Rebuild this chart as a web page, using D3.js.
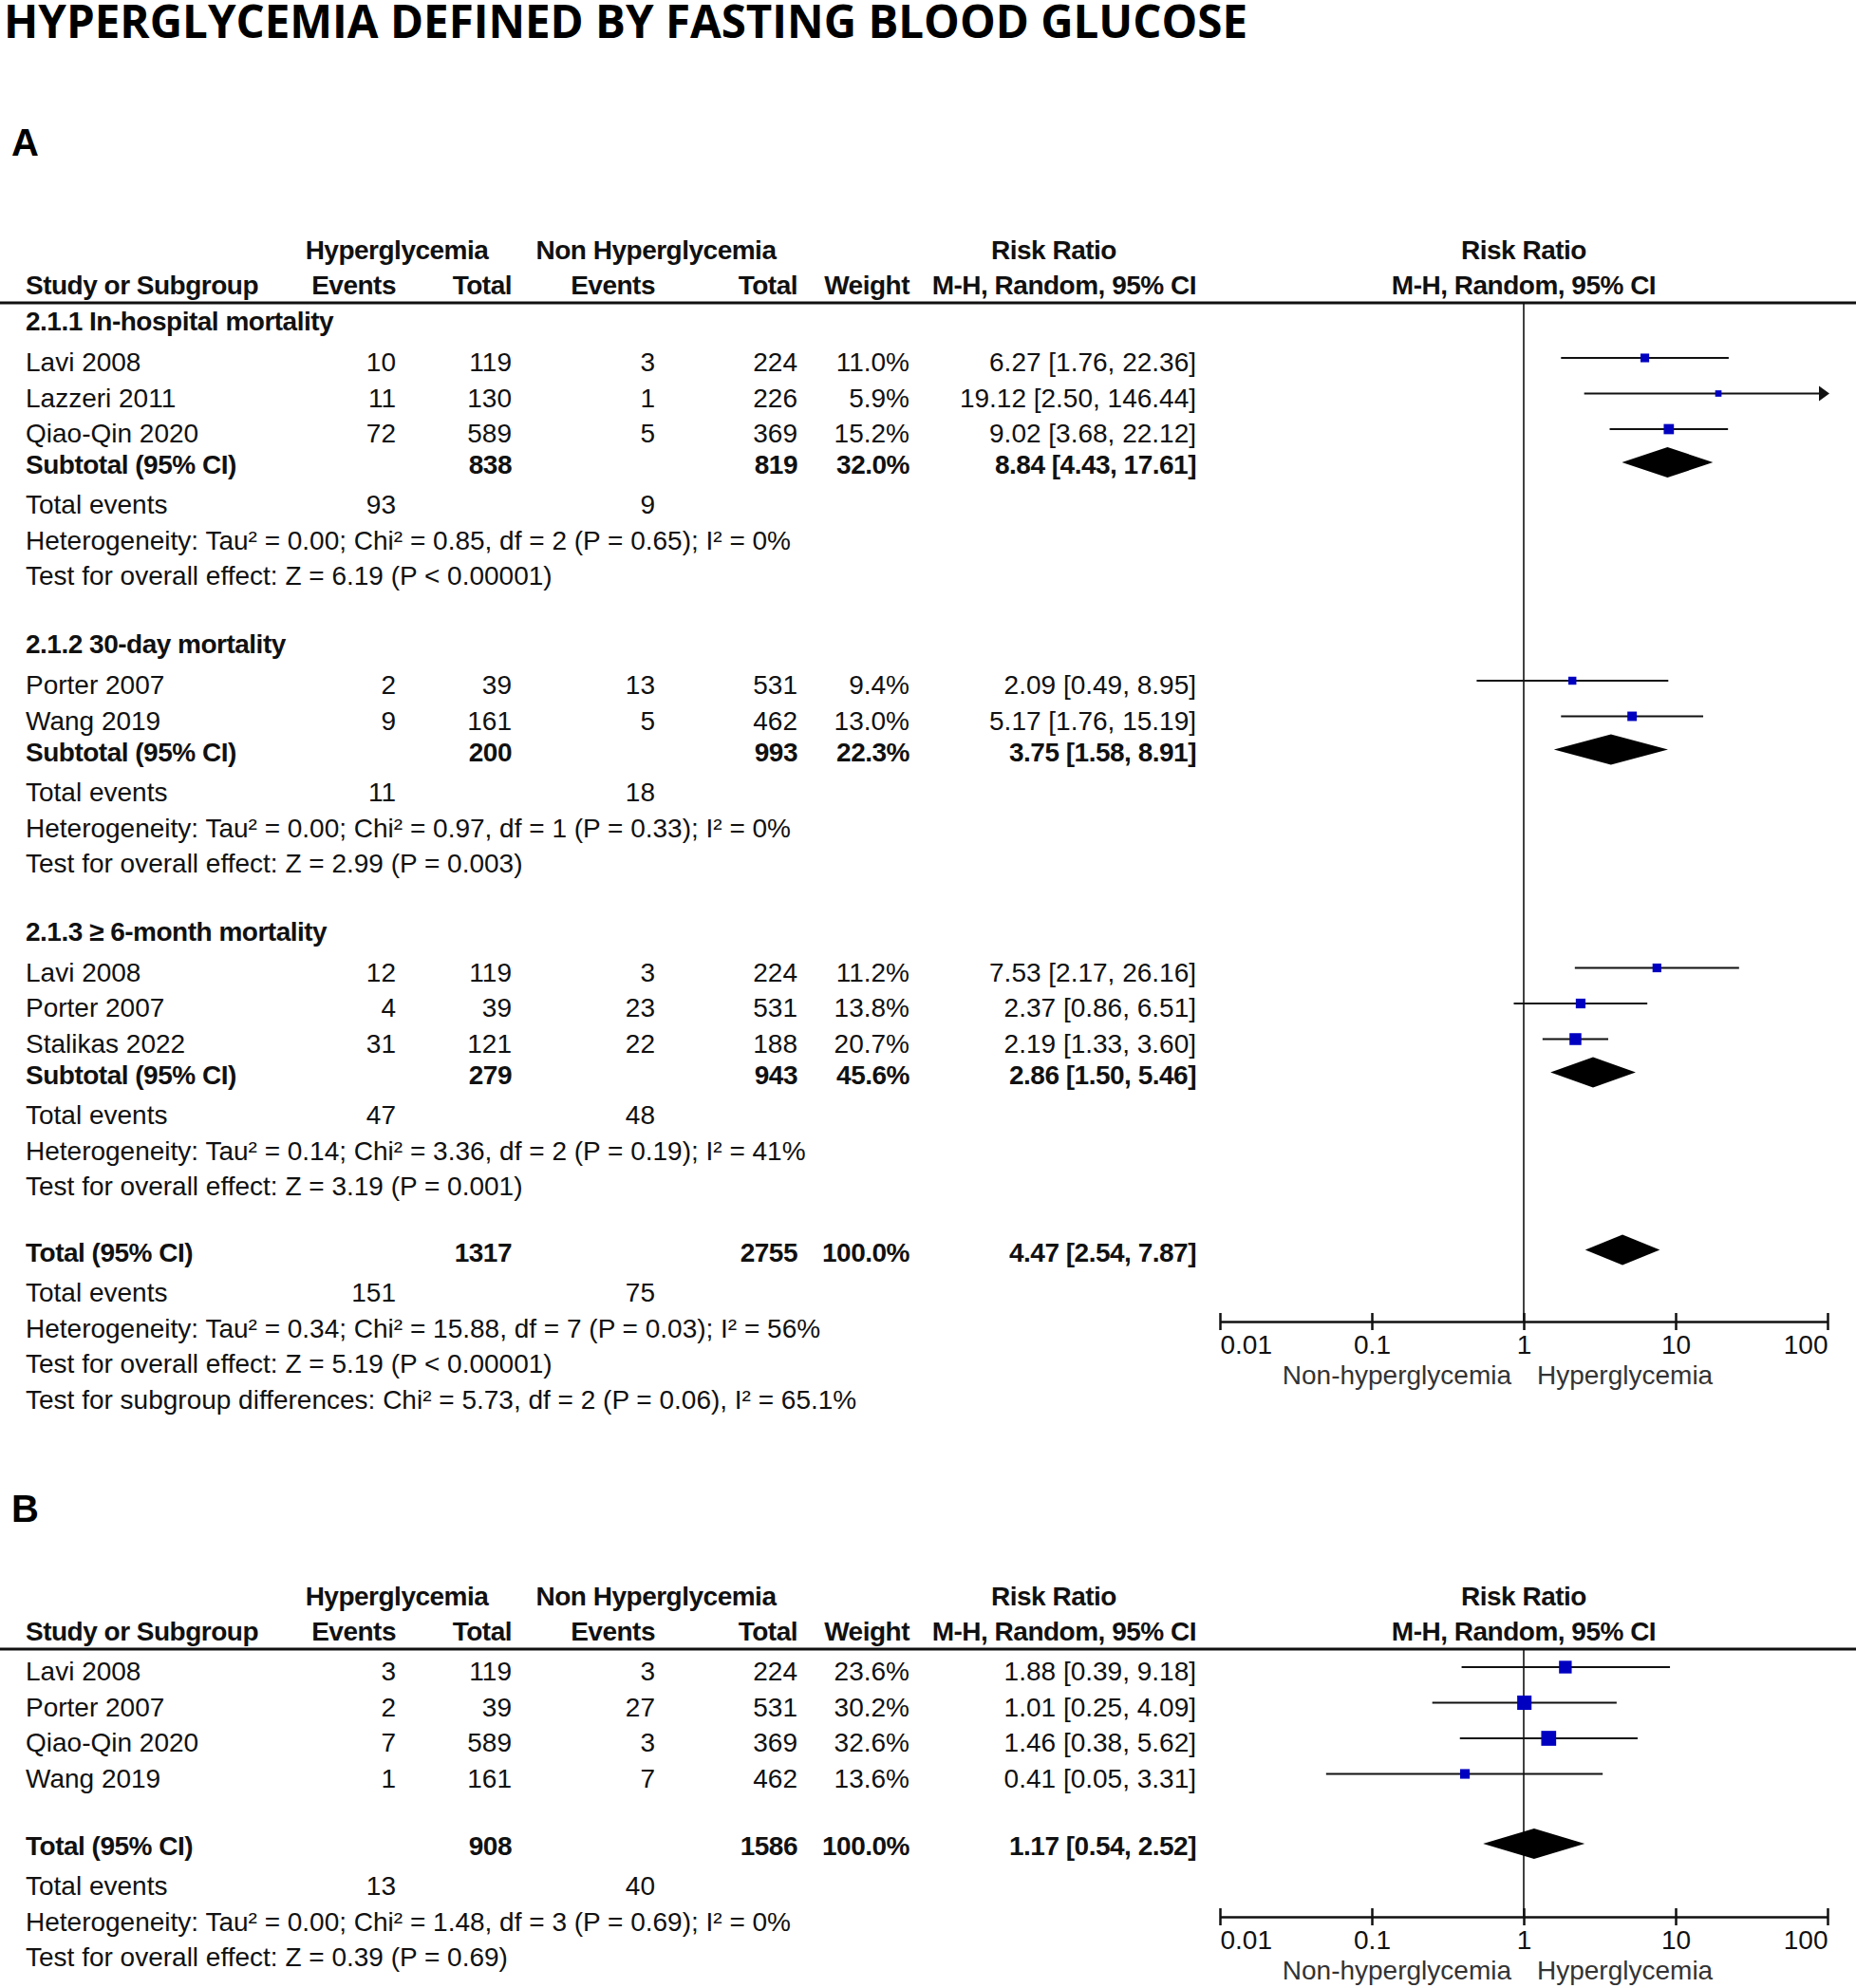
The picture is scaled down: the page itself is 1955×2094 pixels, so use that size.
<!DOCTYPE html>
<html>
<head>
<meta charset="utf-8">
<script src="https://cdn.jsdelivr.net/npm/d3@7"></script>
<style>
body { margin: 0; background: #fff; }
</style>
</head>
<body>
<div class="chart"></div>
<script>
const WIDTH = 1955;
const HEIGHT = 2094;

// ---- panel A: studies ----
var aStudy = ["Lavi 2008", "Lazzeri 2011", "Qiao-Qin 2020", "Porter 2007", "Wang 2019", "Lavi 2008", "Porter 2007", "Stalikas 2022"];
var aGroupOf = [0, 0, 0, 1, 1, 2, 2, 2];
var aHypEvents = [10, 11, 72, 2, 9, 12, 4, 31];
var aHypTotal = [119, 130, 589, 39, 161, 119, 39, 121];
var aNonEvents = [3, 1, 5, 13, 5, 3, 23, 22];
var aNonTotal = [224, 226, 369, 531, 462, 224, 531, 188];
var aWeight = [11.0, 5.9, 15.2, 9.4, 13.0, 11.2, 13.8, 20.7];
var aRR = [6.27, 19.12, 9.02, 2.09, 5.17, 7.53, 2.37, 2.19];
var aLow = [1.76, 2.50, 3.68, 0.49, 1.76, 2.17, 0.86, 1.33];
var aHigh = [22.36, 146.44, 22.12, 8.95, 15.19, 26.16, 6.51, 3.60];

// ---- panel A: subgroups ----
var aGroups = ["2.1.1 In-hospital mortality", "2.1.2 30-day mortality", "2.1.3 \u2265 6-month mortality"];
var aSubHypTotal = [838, 200, 279];
var aSubNonTotal = [819, 993, 943];
var aSubWeight = [32.0, 22.3, 45.6];
var aSubRR = [8.84, 3.75, 2.86];
var aSubLow = [4.43, 1.58, 1.50];
var aSubHigh = [17.61, 8.91, 5.46];
var aSubHypEvents = [93, 11, 47];
var aSubNonEvents = [9, 18, 48];
var aSubHet = [
    "Heterogeneity: Tau\u00b2 = 0.00; Chi\u00b2 = 0.85, df = 2 (P = 0.65); I\u00b2 = 0%",
    "Heterogeneity: Tau\u00b2 = 0.00; Chi\u00b2 = 0.97, df = 1 (P = 0.33); I\u00b2 = 0%",
    "Heterogeneity: Tau\u00b2 = 0.14; Chi\u00b2 = 3.36, df = 2 (P = 0.19); I\u00b2 = 41%"
];
var aSubTest = [
    "Test for overall effect: Z = 6.19 (P < 0.00001)",
    "Test for overall effect: Z = 2.99 (P = 0.003)",
    "Test for overall effect: Z = 3.19 (P = 0.001)"
];

// ---- panel A: overall ----
var aTotalCounts = [1317, 2755];
var aTotalEvents = [151, 75];
var aTotalWeight = 100.0;
var aTotalCI = [4.47, 2.54, 7.87];
var aTotalNotes = [
    "Heterogeneity: Tau\u00b2 = 0.34; Chi\u00b2 = 15.88, df = 7 (P = 0.03); I\u00b2 = 56%",
    "Test for overall effect: Z = 5.19 (P < 0.00001)",
    "Test for subgroup differences: Chi\u00b2 = 5.73, df = 2 (P = 0.06), I\u00b2 = 65.1%"
];

// ---- panel B ----
var bStudy = ["Lavi 2008", "Porter 2007", "Qiao-Qin 2020", "Wang 2019"];
var bHypEvents = [3, 2, 7, 1];
var bHypTotal = [119, 39, 589, 161];
var bNonEvents = [3, 27, 3, 7];
var bNonTotal = [224, 531, 369, 462];
var bWeight = [23.6, 30.2, 32.6, 13.6];
var bRR = [1.88, 1.01, 1.46, 0.41];
var bLow = [0.39, 0.25, 0.38, 0.05];
var bHigh = [9.18, 4.09, 5.62, 3.31];
var bTotalCounts = [908, 1586];
var bTotalEvents = [13, 40];
var bTotalWeight = 100.0;
var bTotalCI = [1.17, 0.54, 2.52];
var bTotalNotes = [
    "Heterogeneity: Tau\u00b2 = 0.00; Chi\u00b2 = 1.48, df = 3 (P = 0.69); I\u00b2 = 0%",
    "Test for overall effect: Z = 0.39 (P = 0.69)"
];

// ---- axis ----
var axisTicks = [0.01, 0.1, 1, 10, 100];
var axisTickLabels = ["0.01", "0.1", "1", "10", "100"];
var favourLabels = ["Non-hyperglycemia", "Hyperglycemia"];

var fmt2 = d3.format(".2f");
var fmtW = function (d) { return d3.format(".1f")(d) + "%"; };
var ciText = function (c) { return fmt2(c[0]) + " [" + fmt2(c[1]) + ", " + fmt2(c[2]) + "]"; };

// column anchors
var COL = { name: 27, hypEv: 417, hypTot: 539, nonEv: 690, nonTot: 840, weight: 958, ci: 1260 };
var cellCols = ["hypEv", "hypTot", "nonEv", "nonTot", "weight"];

var x = d3.scaleLog().domain([0.01, 100]).range([1285, 1925]);
var boxSide = d3.scaleSqrt().domain([0, 100]).range([0, 27.5]);

var svg = d3.select(".chart").append("svg")
    .attr("width", WIDTH)
    .attr("height", HEIGHT)
    .style("font-family", "'Liberation Sans', Arial, sans-serif");

svg.append("rect").attr("width", WIDTH).attr("height", HEIGHT).attr("fill", "#fff");

svg.append("text")
    .attr("x", 4).attr("y", 40)
    .attr("textLength", 1310).attr("lengthAdjust", "spacingAndGlyphs")
    .style("font-family", "'Open Sans', 'DejaVu Sans', sans-serif")
    .style("font-weight", "bold").style("font-size", "48px")
    .text("HYPERGLYCEMIA DEFINED BY FASTING BLOOD GLUCOSE");

svg.append("text").attr("x", 12).attr("y", 164)
    .style("font-weight", "bold").style("font-size", "40px").text("A");
svg.append("text").attr("x", 12).attr("y", 1603)
    .style("font-weight", "bold").style("font-size", "40px").text("B");

// ---- row layout ----
function rowsA(startY) {
    var rows = [];
    var y = startY;
    aGroups.forEach(function (g, gi) {
        if (gi > 0) y += 72;
        rows.push({ type: "group", y: y, label: g });
        y += 43;
        var idx = aStudy.map(function (_, i) { return i; }).filter(function (i) { return aGroupOf[i] === gi; });
        idx.forEach(function (i, k) {
            if (k > 0) y += 37.5;
            rows.push({ type: "study", y: y, label: aStudy[i],
                cells: [aHypEvents[i], aHypTotal[i], aNonEvents[i], aNonTotal[i], fmtW(aWeight[i])],
                ci: [aRR[i], aLow[i], aHigh[i]], w: aWeight[i] });
        });
        y += 33;
        rows.push({ type: "sub", y: y, label: "Subtotal (95% CI)",
            cells: ["", aSubHypTotal[gi], "", aSubNonTotal[gi], fmtW(aSubWeight[gi])],
            ci: [aSubRR[gi], aSubLow[gi], aSubHigh[gi]] });
        y += 42;
        rows.push({ type: "events", y: y, label: "Total events", cells: [aSubHypEvents[gi], "", aSubNonEvents[gi], "", ""] });
        y += 38;
        rows.push({ type: "note", y: y, label: aSubHet[gi] });
        y += 37;
        rows.push({ type: "note", y: y, label: aSubTest[gi] });
    });
    y += 70;
    rows.push({ type: "sub", y: y, label: "Total (95% CI)",
        cells: ["", aTotalCounts[0], "", aTotalCounts[1], fmtW(aTotalWeight)], ci: aTotalCI });
    y += 42;
    rows.push({ type: "events", y: y, label: "Total events", cells: [aTotalEvents[0], "", aTotalEvents[1], "", ""] });
    y += 38;
    aTotalNotes.forEach(function (n, k) {
        if (k > 0) y += 37.5;
        rows.push({ type: "note", y: y, label: n });
    });
    return rows;
}

function rowsB(startY) {
    var rows = [];
    var y = startY;
    bStudy.forEach(function (s, i) {
        if (i > 0) y += 37.5;
        rows.push({ type: "study", y: y, label: s,
            cells: [bHypEvents[i], bHypTotal[i], bNonEvents[i], bNonTotal[i], fmtW(bWeight[i])],
            ci: [bRR[i], bLow[i], bHigh[i]], w: bWeight[i] });
    });
    y += 71.5;
    rows.push({ type: "sub", y: y, label: "Total (95% CI)",
        cells: ["", bTotalCounts[0], "", bTotalCounts[1], fmtW(bTotalWeight)], ci: bTotalCI });
    y += 42;
    rows.push({ type: "events", y: y, label: "Total events", cells: [bTotalEvents[0], "", bTotalEvents[1], "", ""] });
    y += 38;
    bTotalNotes.forEach(function (n, k) {
        if (k > 0) y += 36.5;
        rows.push({ type: "note", y: y, label: n });
    });
    return rows;
}

function drawPanel(rows, lineY, axisY) {
    var g = svg.append("g").style("font-size", "28px").attr("fill", "#111");

    // headers
    var h1 = lineY - 46, h2 = lineY - 9;
    var head = g.append("g").style("font-weight", "bold").style("letter-spacing", "-0.5px");
    [["Hyperglycemia", 418, "middle"], ["Non Hyperglycemia", 691, "middle"],
     ["Risk Ratio", 1110, "middle"], ["Risk Ratio", x(1), "middle"]].forEach(function (h) {
        head.append("text").attr("x", h[1]).attr("y", h1).attr("text-anchor", h[2]).text(h[0]);
    });
    [["Study or Subgroup", COL.name, "start"], ["Events", COL.hypEv, "end"], ["Total", COL.hypTot, "end"],
     ["Events", COL.nonEv, "end"], ["Total", COL.nonTot, "end"], ["Weight", COL.weight, "end"],
     ["M-H, Random, 95% CI", COL.ci, "end"], ["M-H, Random, 95% CI", x(1), "middle"]].forEach(function (h) {
        head.append("text").attr("x", h[1]).attr("y", h2).attr("text-anchor", h[2]).text(h[0]);
    });

    g.append("line").attr("x1", 0).attr("x2", WIDTH).attr("y1", lineY).attr("y2", lineY)
        .attr("stroke", "#111").attr("stroke-width", 3);

    // line of no effect
    g.append("line").attr("x1", x(1)).attr("x2", x(1)).attr("y1", lineY).attr("y2", axisY)
        .attr("stroke", "#111").attr("stroke-width", 1.6);

    // table text
    rows.forEach(function (r) {
        var bold = (r.type === "group" || r.type === "sub");
        var t = g.append("g").style("font-weight", bold ? "bold" : "normal")
            .style("letter-spacing", bold ? "-0.5px" : "0px");
        t.append("text").attr("x", COL.name).attr("y", r.y).text(r.label);
        if (r.cells) {
            r.cells.forEach(function (c, k) {
                if (c === "") return;
                t.append("text").attr("x", COL[cellCols[k]]).attr("y", r.y).attr("text-anchor", "end").text(c);
            });
        }
        if (r.ci) {
            t.append("text").attr("x", COL.ci).attr("y", r.y).attr("text-anchor", "end").text(ciText(r.ci));
        }
    });

    // forest marks
    var studies = rows.filter(function (r) { return r.type === "study"; });
    var subs = rows.filter(function (r) { return r.type === "sub"; });

    g.selectAll(".ci").data(studies).enter().append("line")
        .attr("x1", function (d) { return x(Math.max(d.ci[1], 0.01)); })
        .attr("x2", function (d) { return x(Math.min(d.ci[2], 100)); })
        .attr("y1", function (d) { return d.y - 14; })
        .attr("y2", function (d) { return d.y - 14; })
        .attr("stroke", "#111").attr("stroke-width", 2.2);

    g.selectAll(".arrow").data(studies.filter(function (d) { return d.ci[2] > 100; })).enter().append("path")
        .attr("d", function (d) {
            var xe = x(100), yc = d.y - 14;
            return "M" + (xe + 2) + "," + yc + "L" + (xe - 9) + "," + (yc - 8) + "L" + (xe - 9) + "," + (yc + 8) + "Z";
        })
        .attr("fill", "#111");

    g.selectAll(".box").data(studies).enter().append("rect")
        .attr("x", function (d) { return x(d.ci[0]) - boxSide(d.w) / 2; })
        .attr("y", function (d) { return d.y - 14 - boxSide(d.w) / 2; })
        .attr("width", function (d) { return boxSide(d.w); })
        .attr("height", function (d) { return boxSide(d.w); })
        .attr("fill", "#0000c0");

    g.selectAll(".diamond").data(subs).enter().append("path")
        .attr("d", function (d) {
            var yc = d.y - 12;
            return "M" + x(d.ci[1]) + "," + yc + "L" + x(d.ci[0]) + "," + (yc - 16) +
                "L" + x(d.ci[2]) + "," + yc + "L" + x(d.ci[0]) + "," + (yc + 16) + "Z";
        })
        .attr("fill", "#000");

    // axis
    var axis = d3.axisBottom(x)
        .tickValues(axisTicks)
        .tickSize(9)
        .tickSizeOuter(0)
        .tickFormat(function (d, i) { return axisTickLabels[i]; });

    var ag = g.append("g").attr("transform", "translate(0," + axisY + ")").call(axis);
    ag.select(".domain").attr("stroke", "#111").attr("stroke-width", 2.5);
    ag.selectAll(".tick line").attr("y1", -9).attr("y2", 9).attr("stroke", "#111").attr("stroke-width", 2.5);
    ag.selectAll(".tick text")
        .attr("y", 34).attr("dy", 0)
        .attr("fill", "#111")
        .style("font-size", "28px")
        .style("font-family", "'Liberation Sans', Arial, sans-serif")
        .attr("text-anchor", function (d, i) { return i === 0 ? "start" : (i === axisTicks.length - 1 ? "end" : "middle"); });

    g.append("text").attr("x", x(1) - 13).attr("y", axisY + 66).attr("text-anchor", "end")
        .attr("fill", "#333").text(favourLabels[0]);
    g.append("text").attr("x", x(1) + 14).attr("y", axisY + 66).attr("text-anchor", "start")
        .attr("fill", "#333").text(favourLabels[1]);
}

drawPanel(rowsA(348), 319, 1392);
drawPanel(rowsB(1770), 1737, 2019);
</script>
</body>
</html>
